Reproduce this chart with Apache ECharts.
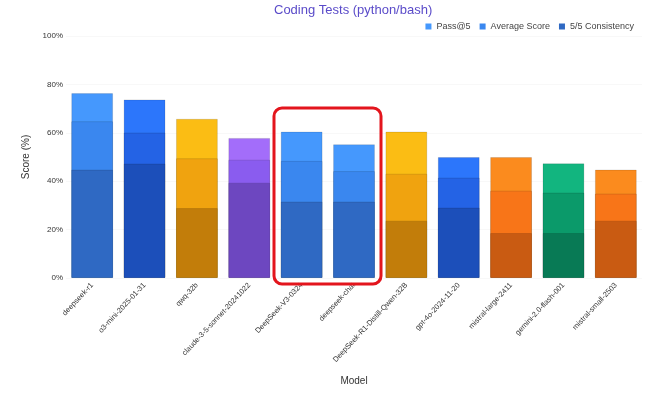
<!DOCTYPE html>
<html>
<head>
<meta charset="utf-8">
<script src="https://cdn.jsdelivr.net/npm/echarts@6/dist/echarts.min.js"></script>
<style>
  html, body { margin: 0; padding: 0; background: #fff; }
  #main { width: 671px; height: 399px; }
</style>
</head>
<body>
<div id="main"></div>
<script>
// models on the x axis
var models = ['deepseek-r1', 'o3-mini-2025-01-31', 'qwq-32b', 'claude-3-5-sonnet-20241022',
  'DeepSeek-V3-0324', 'deepseek-chat', 'DeepSeek-R1-Distill-Qwen-32B', 'gpt-4o-2024-11-20',
  'mistral-large-2411', 'gemini-2.0-flash-001', 'mistral-small-2503']

// scores (%)
var pass5       = [76.4, 73.8, 65.8, 57.9, 60.5, 55.3, 60.5, 50.0, 50.0, 47.4, 44.8]
var avgScore    = [64.8, 60.1, 49.5, 48.9, 48.4, 44.2, 43.1, 41.5, 36.1, 35.3, 34.9]
var consistency = [44.8, 47.3, 28.9, 39.4, 31.6, 31.6, 23.7, 29.1, 18.6, 18.6, 23.7]

// colour family of each model: [pass, avg, consistency]
var fam = {
  sky:    ['#4598fd', '#3a87ef', '#2f69c3'],
  blue:   ['#2c76fb', '#2463e5', '#1c4fba'],
  amber:  ['#fbbd14', '#f0a30f', '#c27d0a'],
  purple: ['#a36dfa', '#8a5cef', '#6d47c0'],
  orange: ['#fb8b1e', '#f87518', '#c95b12'],
  green:  ['#12b57f', '#0b9a6a', '#087a55']
}
var modelFam = ['sky', 'blue', 'amber', 'purple', 'sky', 'sky', 'amber', 'blue', 'orange', 'green', 'orange']

const myChart = echarts.init(document.getElementById('main'))

function makeSeries(name, values, idx) {
  return {
    name: name,
    type: 'bar',
    barGap: '-100%',
    barCategoryGap: '20%',
    color: fam.sky[idx],
    data: values.map(function (v, i) {
      var c = fam[modelFam[i]]
      return {
        value: v,
        itemStyle: {
          color: c[idx],
          borderColor: 'rgba(0,0,0,0.12)',
          borderWidth: 1
        }
      }
    })
  }
}

myChart.setOption({
  animation: false,
  textStyle: { fontFamily: 'Liberation Sans, Arial, sans-serif' },
  title: {
    text: 'Coding Tests (python/bash)',
    left: 269,
    top: -1,
    textStyle: { color: '#5a4bc9', fontSize: 13, fontWeight: 'normal' }
  },
  legend: {
    right: 32,
    top: 17,
    itemWidth: 6,
    itemHeight: 6,
    itemGap: 9,
    icon: 'rect',
    textStyle: { fontSize: 9, color: '#444' },
    data: ['Pass@5', 'Average Score', '5/5 Consistency']
  },
  grid: {
    left: 66,
    right: 29,
    top: 36,
    bottom: 121
  },
  xAxis: {
    type: 'category',
    data: models,
    name: 'Model',
    nameLocation: 'middle',
    nameGap: 98,
    nameTextStyle: { fontSize: 10, color: '#333' },
    axisLine: { show: false },
    axisTick: { show: false },
    axisLabel: { rotate: 47, fontSize: 7.5, color: '#333', margin: 6, interval: 0 }
  },
  yAxis: {
    type: 'value',
    min: 0,
    max: 100,
    interval: 20,
    name: 'Score (%)',
    nameLocation: 'middle',
    nameGap: 30,
    nameTextStyle: { fontSize: 10, color: '#333' },
    axisLabel: { formatter: '{value}%', fontSize: 8, color: '#333', margin: 3 },
    splitLine: { lineStyle: { color: '#f8f8f8' } }
  },
  series: [
    makeSeries('Pass@5', pass5, 0),
    makeSeries('Average Score', avgScore, 1),
    makeSeries('5/5 Consistency', consistency, 2)
  ],
  graphic: [{
    type: 'rect',
    z: 100,
    shape: { x: 274, y: 108, width: 107, height: 176, r: 8 },
    style: { fill: 'none', stroke: '#e3151d', lineWidth: 3 }
  }]
})
window.addEventListener('resize', myChart.resize)
</script>
</body>
</html>
